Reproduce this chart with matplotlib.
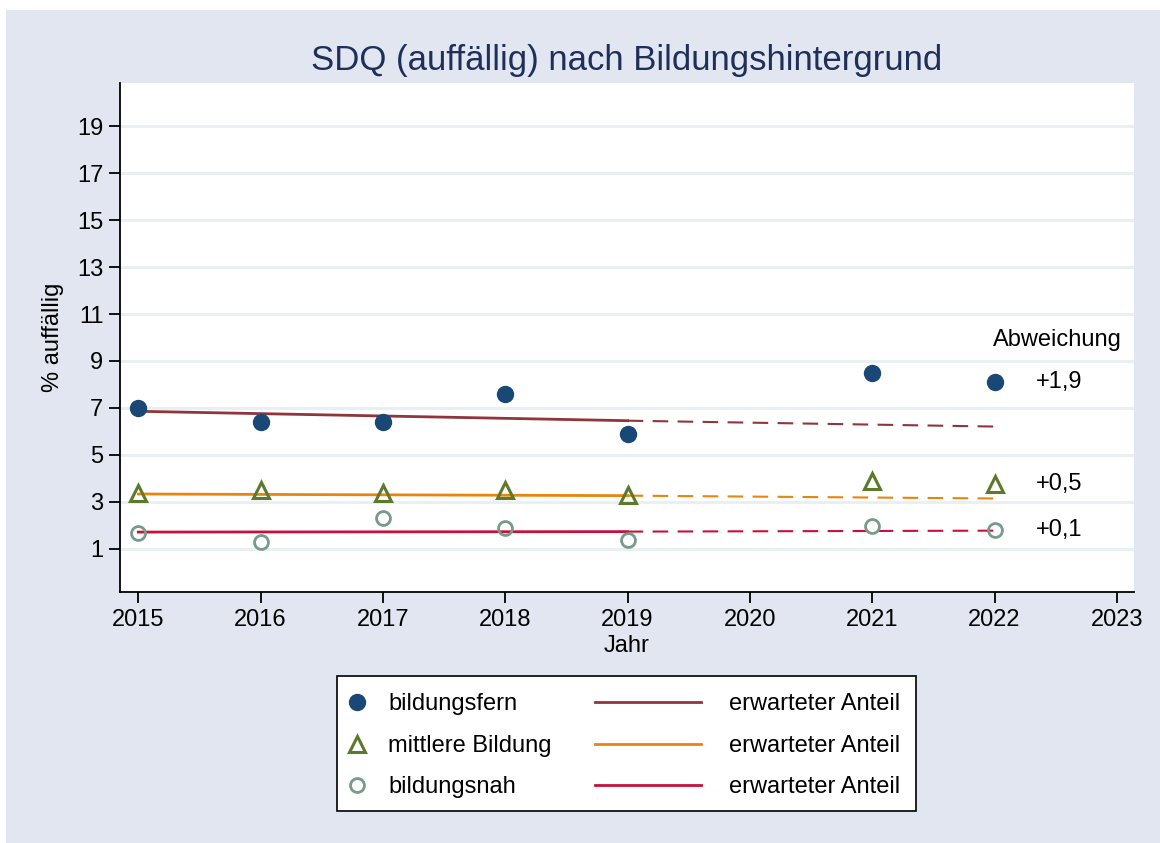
import matplotlib.pyplot as plt
from matplotlib.lines import Line2D
from matplotlib.patches import Rectangle

plt.rcParams["font.family"] = ["Liberation Sans", "DejaVu Sans"]

# observed shares (% auffällig)
years = [2015, 2016, 2017, 2018, 2019, 2021, 2022]
fern = [7.0, 6.4, 6.4, 7.6, 5.9, 8.5, 8.1]
mittel = [3.38, 3.5, 3.38, 3.5, 3.28, 3.88, 3.77]
nah = [1.70, 1.29, 2.30, 1.89, 1.38, 1.98, 1.80]

# expected share (trend), solid up to 2019, dashed afterwards
trend_years = [2015, 2019, 2022]
fern_trend = [6.86, 6.46, 6.21]
mittel_trend = [3.34, 3.27, 3.15]
nah_trend = [1.72, 1.74, 1.78]

dev_labels = ["+1,9", "+0,5", "+0,1"]
group_labels = ["bildungsfern", "mittlere Bildung", "bildungsnah"]
yticks = [1, 3, 5, 7, 9, 11, 13, 15, 17, 19]
xticks = list(range(2015, 2024))

BG = "#E1E6F1"
C_FERN = "#1A4876"
C_MITTEL = "#5B7A2B"
C_NAH = "#779A8B"
T_FERN = "#90353B"
T_MITTEL = "#E8850C"
T_NAH = "#C8103E"
FS = 17

W, H = 1160, 843
fig = plt.figure(figsize=(W / 100, H / 100), dpi=100)
fig.patch.set_facecolor("white")
fig.add_artist(Rectangle((6 / W, 0), 1, 1 - 10 / H, transform=fig.transFigure,
                         facecolor=BG, edgecolor="none", zorder=0))

ax = fig.add_axes([120 / W, 1 - 592 / H, (1134 - 120) / W, (592 - 83) / H])
ax.set_facecolor("white")
ax.set_xlim(2014.85, 2023.14)
ax.set_ylim(-0.83, 20.83)

for s in ["top", "right"]:
    ax.spines[s].set_visible(False)
for s in ["left", "bottom"]:
    ax.spines[s].set_linewidth(1.3)
ax.set_yticks(yticks)
ax.set_xticks(xticks)
ax.tick_params(axis="both", length=8, width=1.3, labelsize=FS, pad=4)
ax.yaxis.grid(True, color="#E9F0F3", lw=2.2)
ax.set_axisbelow(True)

# trend lines
for tr, col in [(fern_trend, T_FERN), (mittel_trend, T_MITTEL), (nah_trend, T_NAH)]:
    ax.plot(trend_years[:2], tr[:2], color=col, lw=2.0, zorder=2)
    ax.plot(trend_years[1:], tr[1:], color=col, lw=1.5, ls=(0, (7.5, 4.5)), zorder=2)

# observed points
ax.plot(years, fern, "o", ls="none", ms=11.5, color=C_FERN, zorder=3)
ax.plot(years, mittel, "^", ls="none", ms=11, mfc="none", mec=C_MITTEL, mew=2.2, zorder=3)
ax.plot(years, nah, "o", ls="none", ms=10, mfc="none", mec=C_NAH, mew=2.0, zorder=3)

# deviation labels
ax.text(2021.99, 9.9, "Abweichung", fontsize=FS, ha="left", va="center")
for lab, series in zip(dev_labels, [fern, mittel, nah]):
    ax.text(2022.34, series[-1], lab, fontsize=FS, ha="left", va="center")

ax.set_xlabel("Jahr", fontsize=FS, labelpad=3)
ax.set_ylabel("% auffällig", fontsize=FS, labelpad=9)
ax.set_title("SDQ (auffällig) nach Bildungshintergrund", fontsize=25, color="#1E2F5A", pad=9)

# legend box
fig.add_artist(Rectangle((337 / W, 1 - 811 / H), (916 - 337) / W, (811 - 676) / H,
                         transform=fig.transFigure, facecolor="white", edgecolor="black",
                         lw=1.2, zorder=1))
mk_handles = [
    Line2D([], [], marker="o", ls="none", ms=11.5, color=C_FERN),
    Line2D([], [], marker="^", ls="none", ms=11, mfc="none", mec=C_MITTEL, mew=2.2),
    Line2D([], [], marker="o", ls="none", ms=10, mfc="none", mec=C_NAH, mew=2.0),
]
ln_handles = [Line2D([], [], color=c, lw=2.0) for c in [T_FERN, T_MITTEL, T_NAH]]

leg1 = fig.legend(mk_handles, group_labels, loc="upper left",
                  bbox_to_anchor=(336 / W, 1 - 684 / H), frameon=False, fontsize=FS,
                  handlelength=1.0, handletextpad=0.8, labelspacing=0.82, borderaxespad=0)
leg2 = fig.legend(ln_handles, ["erwarteter Anteil"] * 3, loc="upper left",
                  bbox_to_anchor=(586 / W, 1 - 684 / H), frameon=False, fontsize=FS,
                  handlelength=4.45, handletextpad=1.2, labelspacing=0.82, borderaxespad=0)
for lg in (leg1, leg2):
    lg.set_zorder(2)

fig.savefig("out.png", dpi=100, facecolor=fig.get_facecolor())
